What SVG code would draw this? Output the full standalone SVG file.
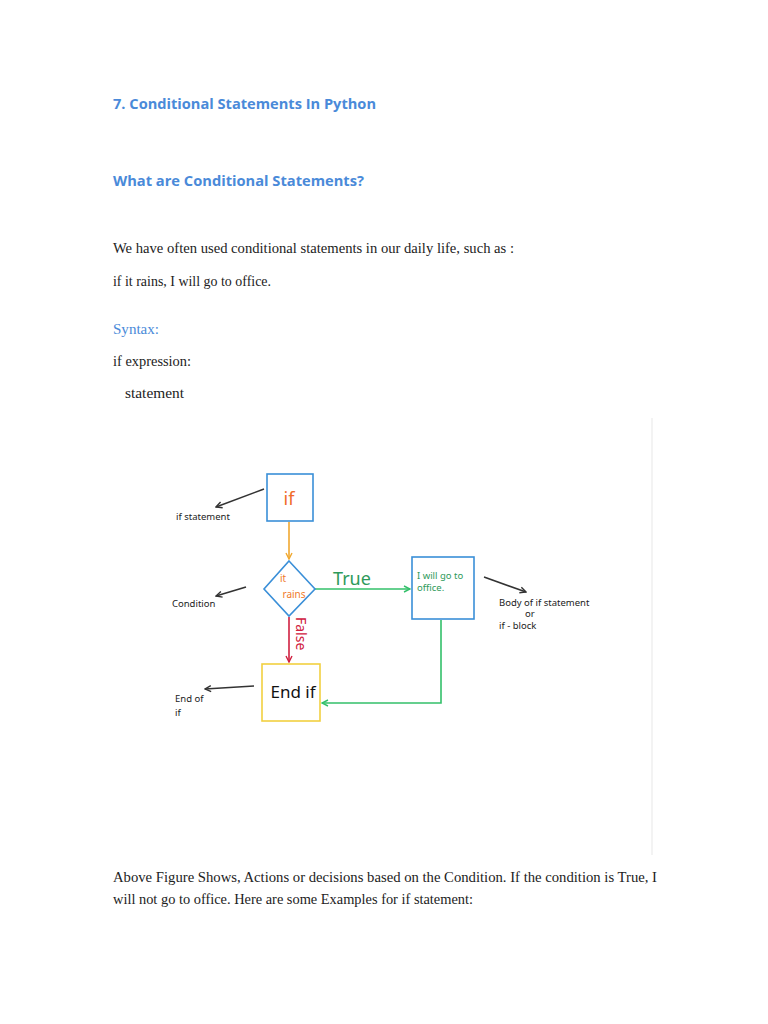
<svg xmlns="http://www.w3.org/2000/svg" width="768" height="1024" viewBox="0 0 768 1024">
<style>
.h{font-family:"Open Sans","Liberation Sans",sans-serif;font-weight:bold;fill:#4a8ad9}
.b{font-family:"Liberation Serif",serif;font-size:14.5px;fill:#222}
.hw{font-family:"Noto Sans","DejaVu Sans",sans-serif}
.ann{font-family:"Noto Sans","DejaVu Sans",sans-serif;font-size:9.5px;fill:#222}
.conn{fill:none;stroke-width:1.6}
</style>
<defs>
<marker id="aK" markerWidth="8" markerHeight="8" refX="7" refY="4" orient="auto" markerUnits="userSpaceOnUse"><path d="M1,1 L7,4 L1,7" fill="none" stroke="#333" stroke-width="1.4"/></marker>
<marker id="aG" markerWidth="8" markerHeight="8" refX="7" refY="4" orient="auto" markerUnits="userSpaceOnUse"><path d="M1,1 L7,4 L1,7" fill="none" stroke="#33c06a" stroke-width="1.4"/></marker>
<marker id="aO" markerWidth="8" markerHeight="8" refX="7" refY="4" orient="auto" markerUnits="userSpaceOnUse"><path d="M1,1 L7,4 L1,7" fill="none" stroke="#f0a830" stroke-width="1.4"/></marker>
<marker id="aR" markerWidth="8" markerHeight="8" refX="7" refY="4" orient="auto" markerUnits="userSpaceOnUse"><path d="M1,1 L7,4 L1,7" fill="none" stroke="#d02040" stroke-width="1.4"/></marker>
</defs>
<rect width="768" height="1024" fill="#fff"/>

<text class="h" x="113" y="109" font-size="15" textLength="263" lengthAdjust="spacingAndGlyphs">7. Conditional Statements In Python</text>
<text class="h" x="113" y="186" font-size="15" textLength="251" lengthAdjust="spacingAndGlyphs">What are Conditional Statements?</text>
<text class="b" x="113" y="253" textLength="401" lengthAdjust="spacingAndGlyphs">We have often used conditional statements in our daily life, such as :</text>
<text class="b" x="113" y="286" textLength="158" lengthAdjust="spacingAndGlyphs">if it rains, I will go to office.</text>
<text class="b" x="113" y="334" style="fill:#4a8ad9" textLength="46" lengthAdjust="spacingAndGlyphs">Syntax:</text>
<text class="b" x="113" y="366" textLength="78" lengthAdjust="spacingAndGlyphs">if expression:</text>
<text class="b" x="125" y="398" textLength="59" lengthAdjust="spacingAndGlyphs">statement</text>

<line x1="652" y1="418" x2="652" y2="855" stroke="#f3f3f3" stroke-width="2"/>

<g id="connectors">
<line class="conn" x1="289" y1="522" x2="289" y2="559" stroke="#f0a830" marker-end="url(#aO)"/>
<line class="conn" x1="315" y1="589" x2="410" y2="589" stroke="#33c06a" marker-end="url(#aG)"/>
<line class="conn" x1="289" y1="617" x2="289" y2="662" stroke="#d02040" marker-end="url(#aR)"/>
<polyline class="conn" points="441,620 441,703 322,703" stroke="#33c06a" marker-end="url(#aG)"/>
<text class="hw" x="352" y="585" font-size="18" fill="#2e9a5a" text-anchor="middle">True</text>
<text class="hw" transform="translate(296,617) rotate(90)" font-size="14" fill="#d02040">False</text>
<line class="conn" x1="264" y1="489" x2="216" y2="507" stroke="#333" marker-end="url(#aK)"/>
<line class="conn" x1="246" y1="587" x2="216" y2="596" stroke="#333" marker-end="url(#aK)"/>
<line class="conn" x1="484" y1="577" x2="526" y2="592" stroke="#333" marker-end="url(#aK)"/>
<line class="conn" x1="254" y1="686" x2="205" y2="689" stroke="#333" marker-end="url(#aK)"/>
</g>

<g id="node-if">
<rect x="267" y="474" width="46" height="47" fill="#fff" stroke="#3a8fd8" stroke-width="1.6"/>
<text class="hw" x="289" y="505" font-size="18" fill="#f06a2a" text-anchor="middle">if</text>
</g>
<g id="node-condition">
<polygon points="289,561 315,589 289,616 264,589" fill="#fff" stroke="#3a8fd8" stroke-width="1.6"/>
<text class="hw" x="280" y="582" font-size="10" fill="#f07a2a">it</text>
<text class="hw" x="294" y="598" font-size="10" fill="#f07a2a" text-anchor="middle">rains</text>
</g>
<g id="node-body">
<rect x="412" y="557" width="62" height="62" fill="#fff" stroke="#3a8fd8" stroke-width="1.6"/>
<text class="hw" x="417" y="579" font-size="9.5" fill="#2e9a5a">I will go to</text>
<text class="hw" x="417" y="591" font-size="9.5" fill="#2e9a5a">office.</text>
</g>
<g id="node-endif">
<rect x="262" y="664" width="58" height="57" fill="#fff" stroke="#f2d040" stroke-width="1.6"/>
<text class="hw" x="293" y="698" font-size="17" fill="#111" text-anchor="middle">End if</text>
</g>

<g id="annotations">
<text class="ann" x="176" y="520">if statement</text>
<text class="ann" x="172" y="607">Condition</text>
<text class="ann" x="499" y="606">Body of if statement</text>
<text class="ann" x="525" y="617">or</text>
<text class="ann" x="499" y="629">if - block</text>
<text class="ann" x="175" y="702">End of</text>
<text class="ann" x="175" y="716">if</text>
</g>

<text class="b" x="113" y="882" textLength="544" lengthAdjust="spacingAndGlyphs">Above Figure Shows, Actions or decisions based on the Condition. If the condition is True, I</text>
<text class="b" x="113" y="904" textLength="360" lengthAdjust="spacingAndGlyphs">will not go to office. Here are some Examples for if statement:</text>
</svg>
